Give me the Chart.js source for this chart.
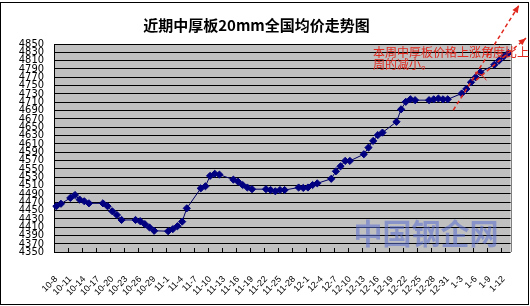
<!DOCTYPE html>
<html>
<head>
<meta charset="utf-8">
<script src="https://cdn.jsdelivr.net/npm/chart.js@4"></script>
<style>
  body { margin: 0; background: #fff; }
  #wrap { width: 530px; height: 306px; }
</style>
</head>
<body>
<div id="wrap"><canvas id="plateChart" width="530" height="306"></canvas></div>
<script>
// every calendar day on the axis (10-8 .. 1-13)
const days = [
  '10-8','10-9','10-10','10-11','10-12','10-13','10-14','10-15','10-16','10-17','10-18','10-19',
  '10-20','10-21','10-22','10-23','10-24','10-25','10-26','10-27','10-28','10-29','10-30','10-31',
  '11-1','11-2','11-3','11-4','11-5','11-6','11-7','11-8','11-9','11-10','11-11','11-12','11-13',
  '11-14','11-15','11-16','11-17','11-18','11-19','11-20','11-21','11-22','11-23','11-24','11-25',
  '11-26','11-27','11-28','11-29','11-30',
  '12-1','12-2','12-3','12-4','12-5','12-6','12-7','12-8','12-9','12-10','12-11','12-12','12-13',
  '12-14','12-15','12-16','12-17','12-18','12-19','12-20','12-21','12-22','12-23','12-24','12-25',
  '12-26','12-27','12-28','12-29','12-30','12-31',
  '1-1','1-2','1-3','1-4','1-5','1-6','1-7','1-8','1-9','1-10','1-11','1-12','1-13'
];

// days with a quoted price
const priceDates = [
  '10-8','10-9','10-11','10-12','10-13','10-14','10-15',
  '10-18','10-19','10-20','10-21','10-22',
  '10-25','10-26','10-27','10-28','10-29',
  '11-1','11-2','11-3','11-4','11-5',
  '11-8','11-9','11-10','11-11','11-12',
  '11-15','11-16','11-17','11-18','11-19',
  '11-22','11-23','11-24','11-25','11-26',
  '11-29','11-30','12-1','12-2','12-3',
  '12-6','12-7','12-8','12-9','12-10',
  '12-13','12-14','12-15','12-16','12-17',
  '12-20','12-21','12-22','12-23','12-24',
  '12-27','12-28','12-29','12-30','12-31',
  '1-3','1-4','1-5','1-6','1-7',
  '1-10','1-11','1-12','1-13'
];

// average price, yuan/t
const prices = [
  4460, 4466, 4480, 4487, 4476, 4472, 4467,
  4467, 4460, 4448, 4439, 4427,
  4427, 4424, 4417, 4409, 4401,
  4400, 4405, 4412, 4423, 4455,
  4503, 4508, 4533, 4538, 4536,
  4524, 4519, 4511, 4505, 4501,
  4501, 4499, 4496, 4499, 4499,
  4505, 4504, 4505, 4511, 4515,
  4526, 4544, 4556, 4569, 4569,
  4585, 4601, 4617, 4631, 4637,
  4663, 4693, 4711, 4717, 4715,
  4715, 4717, 4719, 4717, 4717,
  4731, 4742, 4758, 4770, 4782,
  4800, 4810, 4820, 4828
];

const yMin = 4350;
const yMax = 4850;
const yStep = 20;

const titleText = '近期中厚板20mm全国均价走势图';
const noteLines = ['本周中厚板价格上涨角度比上', '周的减小。'];
const watermark = '中国钢企网';

// gray plot area, frame, inside tick marks, notes and arrows like the Excel original
const excelLook = {
  id: 'excelLook',
  beforeDraw(chart) {
    const { ctx, chartArea: a } = chart;
    ctx.save();
    ctx.fillStyle = '#c0c0c0';
    ctx.fillRect(a.left, a.top, a.right - a.left, a.bottom - a.top);
    ctx.restore();
  },
  afterDraw(chart) {
    const { ctx, chartArea: a } = chart;
    const x = chart.scales.x;
    const y = chart.scales.y;
    ctx.save();

    // outer chart frame
    ctx.strokeStyle = '#000';
    ctx.lineWidth = 1;
    ctx.strokeRect(0.5, 2.5, 528, 302);

    // plot frame
    ctx.strokeStyle = '#808080';
    ctx.beginPath();
    ctx.moveTo(Math.round(a.right) + 0.5, a.top);
    ctx.lineTo(Math.round(a.right) + 0.5, a.bottom);
    ctx.stroke();

    // small tick marks every 3 days, inside the plot
    ctx.strokeStyle = '#000';
    ctx.beginPath();
    for (let k = 3; k < days.length; k += 3) {
      const px = Math.round((x.getPixelForValue(k - 1) + x.getPixelForValue(k)) / 2) + 0.5;
      ctx.moveTo(px, a.bottom);
      ctx.lineTo(px, a.bottom - 4);
    }
    ctx.stroke();

    // watermark
    ctx.font = 'bold 29px "Noto Sans CJK SC"';
    ctx.fillStyle = 'rgba(90, 110, 210, 0.55)';
    ctx.textAlign = 'right';
    ctx.textBaseline = 'middle';
    ctx.fillText(watermark, a.right - 12, a.bottom - 18);

    // red note
    ctx.font = '12px "Noto Sans CJK SC"';
    ctx.fillStyle = '#e0281e';
    ctx.textAlign = 'left';
    ctx.fillText(noteLines[0], 373, 52);
    ctx.fillText(noteLines[1], 373, 64);

    // dashed trend arrows, placed in axis units
    const arrow = (i0, v0, i1, v1) => {
      const x0 = x.getPixelForValue(i0), y0 = y.getPixelForValue(v0);
      const x1 = x.getPixelForValue(i1), y1 = y.getPixelForValue(v1);
      ctx.strokeStyle = '#e0281e';
      ctx.fillStyle = '#e0281e';
      ctx.lineWidth = 1.5;
      ctx.setLineDash([4, 3]);
      ctx.beginPath();
      ctx.moveTo(x0, y0);
      ctx.lineTo(x1, y1);
      ctx.stroke();
      ctx.setLineDash([]);
      const ang = Math.atan2(y1 - y0, x1 - x0);
      ctx.beginPath();
      ctx.moveTo(x1, y1);
      ctx.lineTo(x1 - 8 * Math.cos(ang - 0.4), y1 - 8 * Math.sin(ang - 0.4));
      ctx.lineTo(x1 - 8 * Math.cos(ang + 0.4), y1 - 8 * Math.sin(ang + 0.4));
      ctx.closePath();
      ctx.fill();
    };
    arrow(85.2, 4691, 99.3, 4943);
    arrow(90.1, 4763, 100.8, 4864);

    // angle mark between the arrows
    ctx.strokeStyle = '#e0281e';
    ctx.lineWidth = 1;
    ctx.beginPath();
    ctx.arc(x.getPixelForValue(89), y.getPixelForValue(4740), 18, -1.35, -0.55);
    ctx.stroke();

    ctx.restore();
  }
};

new Chart(document.getElementById('plateChart'), {
  type: 'line',
  data: {
    labels: days,
    datasets: [{
      data: priceDates.map((d, i) => ({ x: d, y: prices[i] })),
      borderColor: '#000066',
      borderWidth: 1,
      backgroundColor: '#000080',
      pointStyle: 'rectRot',
      pointRadius: 3.6,
      pointBorderWidth: 1,
      pointBorderColor: '#000080',
      tension: 0
    }]
  },
  options: {
    responsive: false,
    animation: false,
    events: [],
    layout: { padding: { left: 0, right: 17, top: 0, bottom: 0 } },
    plugins: {
      legend: { display: false },
      tooltip: { enabled: false },
      title: {
        display: true,
        text: titleText,
        color: '#000',
        font: { family: '"Noto Sans CJK SC"', size: 15, weight: 'bold', lineHeight: 1.2 },
        padding: { top: 16, bottom: 10 }
      }
    },
    scales: {
      x: {
        type: 'category',
        offset: true,
        grid: { display: false },
        border: { display: false },
        afterFit(scale) { scale.height = 54; },
        ticks: {
          autoSkip: false,
          maxRotation: 45,
          minRotation: 45,
          padding: 14,
          color: '#000',
          font: { family: '"Liberation Sans", Arial', size: 9 },
          callback: (val, idx) => (idx % 3 === 0 ? days[idx] : '')
        }
      },
      y: {
        min: yMin,
        max: yMax,
        afterFit(scale) { scale.width = 54; },
        grid: { color: '#000', lineWidth: 1, drawTicks: false },
        border: { display: true, color: '#000', width: 1 },
        ticks: {
          stepSize: yStep,
          autoSkip: false,
          padding: 10,
          color: '#000',
          font: { family: '"Liberation Sans Narrow", "DejaVu Sans Condensed", "Liberation Sans"', size: 11 },
          callback: v => String(v)
        }
      }
    }
  },
  plugins: [excelLook]
});
</script>
</body>
</html>
